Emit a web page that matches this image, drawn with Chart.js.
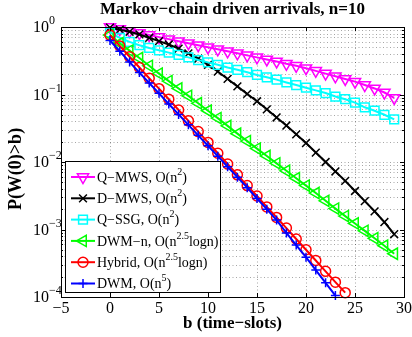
<!DOCTYPE html>
<html>
<head>
<meta charset="utf-8">
<script src="https://cdn.jsdelivr.net/npm/chart.js@4.4.0/dist/chart.umd.min.js"></script>
<style>
  html, body { margin: 0; padding: 0; background: #fff; }
</style>
</head>
<body>
<canvas id="tailChart" width="412" height="337"></canvas>
<script>
// buffer size b (time-slots)
const bSlots = [0,1,2,3,4,5,6,7,8,9,10,11,12,13,14,15,16,17,18,19,20,21,22,23,24,25,26,27,28,29];

// P(W(0) > b)
const qMws   = [1.0,0.933,0.871,0.813,0.759,0.708,0.661,0.617,0.575,0.537,0.501,0.468,0.437,0.407,0.380,
                0.355,0.331,0.309,0.285,0.266,0.245,0.224,0.204,0.186,0.170,0.155,0.138,0.123,0.107,0.089];
const dMws   = [0.977,0.912,0.851,0.776,0.692,0.617,0.550,0.479,0.407,0.339,0.275,0.219,0.170,0.132,0.102,
                0.0794,0.0603,0.0457,0.0347,0.0257,0.0191,0.0138,0.0100,0.00724,0.00525,0.00372,0.00263,0.00186,0.00129,0.000851];
const qSsg   = [0.832,0.692,0.603,0.537,0.490,0.452,0.417,0.385,0.355,0.324,0.299,0.275,0.251,0.232,0.214,
                0.195,0.180,0.166,0.151,0.138,0.126,0.115,0.105,0.0933,0.0851,0.0759,0.0646,0.0575,0.0501,0.0427];
const dwmN   = [0.759,0.575,0.447,0.347,0.266,0.204,0.158,0.123,0.0955,0.0741,0.0575,0.0447,0.0343,0.0263,0.0204,
                0.0158,0.0123,0.00955,0.00741,0.00575,0.00447,0.00347,0.00266,0.00204,0.00158,0.00123,0.000955,0.000741,0.000575,0.000437];
const hybrid = [0.759,0.525,0.363,0.251,0.174,0.122,0.0851,0.0589,0.0407,0.0282,0.0195,0.0135,0.00933,0.00646,0.00447,
                0.00313,0.00216,0.00151,0.00105,0.000724,0.000501,0.000347,0.000240,0.000166,0.000116];
const dwm    = [0.631,0.437,0.302,0.211,0.148,0.104,0.0724,0.0507,0.0355,0.0248,0.0174,0.0122,0.00851,0.00596,0.00417,
                0.00288,0.00200,0.00138,0.000891,0.000589,0.000389,0.000251,0.000162,0.000105];

const xTicks = [-5,0,5,10,15,20,25,30];
const yDecades = [1, 0.1, 0.01, 0.001, 0.0001];
const yExponents = ['0','\u22121','\u22122','\u22123','\u22124'];

const legendLabels = [
  ['Q\u2212MWS, O(n', '2', ')'],
  ['D\u2212MWS, O(n', '2', ')'],
  ['Q\u2212SSG, O(n', '2', ')'],
  ['DWM\u2212n, O(n', '2.5', 'logn)'],
  ['Hybrid, O(n', '2.5', 'logn)'],
  ['DWM, O(n', '5', ')']
];

const serif = '"Liberation Serif", "Times New Roman", serif';

const styles = [
  { color: '#ff00ff', pointStyle: 'triangle', rotation: 180, radius: 6.5 },
  { color: '#000000', pointStyle: 'crossRot', rotation: 0, radius: 5.5 },
  { color: '#00ffff', pointStyle: 'rect', rotation: 0, radius: 6.2 },
  { color: '#00ff00', pointStyle: 'triangle', rotation: 270, radius: 6.5 },
  { color: '#ff0000', pointStyle: 'circle', rotation: 0, radius: 5 },
  { color: '#0000ff', pointStyle: 'cross', rotation: 0, radius: 4.5 }
];

const seriesData = [qMws, dMws, qSsg, dwmN, hybrid, dwm];

// minor + major grid values for the log axis
const yGrid = [];
yDecades.forEach(d => { for (let k = 1; k <= 9; k++) { if (d * k <= 1.0000001) yGrid.push(d * k); } });

function toPoints(vals) {
  return vals.map((v, i) => ({ x: bSlots[i], y: v }));
}

function richText(ctx, parts, x, y, size, bold) {
  let cx = x;
  parts.forEach((p, i) => {
    const sup = i % 2 === 1;
    const s = sup ? Math.round(size * 0.72) : size;
    ctx.font = (bold ? 'bold ' : '') + s + 'px ' + serif;
    ctx.fillText(p, cx, sup ? y - size * 0.42 : y);
    cx += ctx.measureText(p).width;
  });
  return cx - x;
}

function marker(ctx, st, x, y) {
  if (Chart.helpers && Chart.helpers.drawPoint) {
    Chart.helpers.drawPoint(ctx, { pointStyle: st.pointStyle, rotation: st.rotation, radius: st.radius, borderWidth: 1.5 }, x, y);
  }
}

const matlabFrame = {
  id: 'matlabFrame',
  beforeDraw(chart) {
    const ctx = chart.ctx;
    ctx.save();
    ctx.fillStyle = '#fff';
    ctx.fillRect(0, 0, chart.width, chart.height);
    ctx.restore();
  },
  beforeDatasetsDraw(chart) {
    const { ctx, chartArea: a, scales: { x, y } } = chart;
    ctx.save();
    ctx.strokeStyle = 'rgba(0,0,0,0.35)';
    ctx.lineWidth = 1;
    ctx.setLineDash([1, 2.5]);
    xTicks.forEach(t => {
      const px = Math.round(x.getPixelForValue(t)) + 0.5;
      ctx.beginPath(); ctx.moveTo(px, a.top); ctx.lineTo(px, a.bottom); ctx.stroke();
    });
    yGrid.forEach(v => {
      const py = Math.round(y.getPixelForValue(v)) + 0.5;
      ctx.beginPath(); ctx.moveTo(a.left, py); ctx.lineTo(a.right, py); ctx.stroke();
    });
    ctx.restore();
  },
  afterDraw(chart) {
    const { ctx, chartArea: a, scales: { x, y } } = chart;
    ctx.save();
    ctx.setLineDash([]);
    ctx.strokeStyle = '#000';
    ctx.lineWidth = 1;
    // inward ticks
    xTicks.forEach(t => {
      const px = Math.round(x.getPixelForValue(t)) + 0.5;
      ctx.beginPath();
      ctx.moveTo(px, a.bottom); ctx.lineTo(px, a.bottom - 4);
      ctx.moveTo(px, a.top); ctx.lineTo(px, a.top + 4);
      ctx.stroke();
    });
    yGrid.forEach(v => {
      const py = Math.round(y.getPixelForValue(v)) + 0.5;
      const major = yDecades.some(d => Math.abs(d - v) < d * 1e-6);
      const len = major ? 4 : 2;
      ctx.beginPath();
      ctx.moveTo(a.left, py); ctx.lineTo(a.left + len, py);
      ctx.moveTo(a.right, py); ctx.lineTo(a.right - len, py);
      ctx.stroke();
    });
    // axes box
    ctx.strokeRect(Math.round(a.left) + 0.5, Math.round(a.top) + 0.5, Math.round(a.right - a.left), Math.round(a.bottom - a.top));

    // tick labels
    ctx.fillStyle = '#000';
    ctx.textBaseline = 'middle';
    ctx.textAlign = 'center';
    ctx.font = '16px ' + serif;
    xTicks.forEach(t => {
      const lbl = t < 0 ? '\u2212' + Math.abs(t) : String(t);
      ctx.fillText(lbl, x.getPixelForValue(t), 309);
    });
    ctx.textAlign = 'left';
    yDecades.forEach((d, i) => {
      richText(ctx, ['10', yExponents[i]], 33, y.getPixelForValue(d) + 1, 16, false);
    });

    // titles
    ctx.textAlign = 'center';
    ctx.font = 'bold 17px ' + serif;
    ctx.fillText('Markov\u2212chain driven arrivals, n=10', (a.left + a.right) / 2, 10);
    ctx.fillText('b (time\u2212slots)', (a.left + a.right) / 2, 324);
    ctx.save();
    ctx.translate(16, 169);
    ctx.rotate(-Math.PI / 2);
    ctx.font = 'bold 18px ' + serif;
    ctx.fillText('P(W(0)>b)', 0, 0);
    ctx.restore();

    // legend box inside the axes
    const lx = 65, ly = 161, lw = 155, lh = 131;
    ctx.fillStyle = '#fff';
    ctx.fillRect(lx, ly, lw, lh);
    ctx.lineWidth = 1;
    ctx.strokeStyle = '#000';
    ctx.strokeRect(lx + 0.5, ly + 0.5, lw, lh);
    legendLabels.forEach((parts, i) => {
      const st = styles[i];
      const ry = 177 + i * 21.3;
      ctx.strokeStyle = st.color;
      ctx.lineWidth = 2;
      ctx.beginPath(); ctx.moveTo(71, ry); ctx.lineTo(95, ry); ctx.stroke();
      ctx.fillStyle = 'rgba(0,0,0,0)';
      ctx.lineWidth = 1.5;
      marker(ctx, st, 83, ry);
      ctx.fillStyle = '#000';
      ctx.textAlign = 'left';
      richText(ctx, parts, 97, ry + 1, 14, false);
    });
    ctx.restore();
  }
};

const datasets = seriesData.map((vals, i) => ({
  label: legendLabels[i].join(''),
  data: toPoints(vals),
  borderColor: styles[i].color,
  borderWidth: 2,
  pointStyle: styles[i].pointStyle,
  pointRotation: styles[i].rotation,
  pointRadius: styles[i].radius,
  pointBorderColor: styles[i].color,
  pointBackgroundColor: 'rgba(0,0,0,0)',
  pointBorderWidth: 1.5,
  tension: 0,
  clip: false,
  order: 6 - i
}));

new Chart(document.getElementById('tailChart'), {
  type: 'line',
  data: { datasets: datasets },
  options: {
    responsive: false,
    animation: false,
    events: [],
    layout: { padding: { top: 27, right: 7, left: 0, bottom: 0 } },
    plugins: { legend: { display: false }, tooltip: { enabled: false }, title: { display: false } },
    scales: {
      x: {
        type: 'linear', min: -5, max: 30,
        ticks: { display: false, stepSize: 5 },
        grid: { display: false },
        border: { display: false },
        afterFit: s => { s.height = 40; }
      },
      y: {
        type: 'logarithmic', min: 0.0001, max: 1,
        ticks: { display: false, autoSkip: false },
        grid: { display: false },
        border: { display: false },
        afterFit: s => { s.width = 61; }
      }
    }
  },
  plugins: [matlabFrame]
});
</script>
</body>
</html>
